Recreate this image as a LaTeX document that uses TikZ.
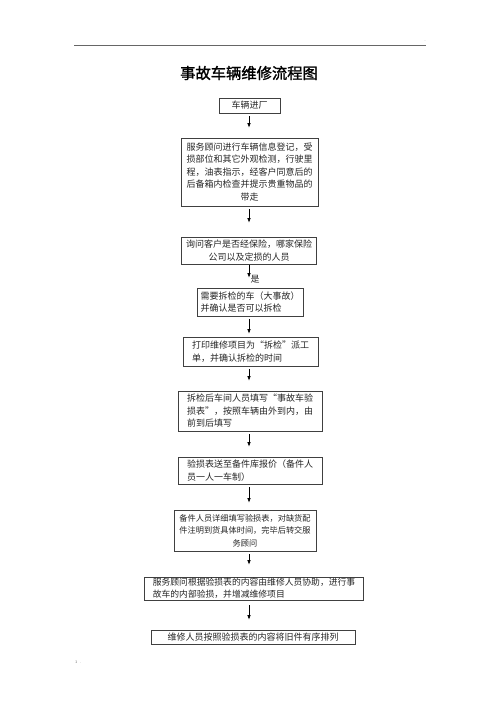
\documentclass[tikz,border=0pt]{standalone}
\usepackage{fontspec}
\newfontfamily\cjk{Noto Sans CJK SC}
\newfontfamily\cjkbold[FakeBold=1.5]{Noto Sans CJK SC}
\usetikzlibrary{arrows.meta}

\tikzset{
  stepbox/.style={draw=black!75, line width=0.6pt, inner sep=0pt, text=black!85,
    font=\cjk\fontsize{9}{12.5}\selectfont},
  flowarrow/.style={-{Latex[length=4.5pt,width=3.5pt]}, line width=0.6pt,
    shorten <=3pt, shorten >=10pt},
}

\begin{document}
\begin{tikzpicture}[x=1pt, y=-1pt]

\fill [white] (0,0) rectangle (500,708);

% page rule and marks
\draw [black!60, line width=0.6pt] (74,45) -- (426,45);
\node [font=\tiny, text=black!50] (dot) at (425,41) {.};
\node [font=\fontsize{4}{5}\selectfont, text=black!60] (pageno) at (78,662) {1 .};

\node [font=\cjkbold\fontsize{15.3}{18}\selectfont] (title) at (249,73) {事故车辆维修流程图};

% boxes
\node [stepbox, minimum width=61, minimum height=15] (enter) at (249.5,105.5) {车辆进厂};
\node [stepbox, minimum width=137, minimum height=68, align=center] (register) at (249.5,172)
  {服务顾问进行车辆信息登记，受\\损部位和其它外观检测，行驶里\\程，油表指示，经客户同意后的\\后备箱内检查并提示贵重物品的\\带走};
\node [stepbox, minimum width=135, minimum height=27, align=center] (insure) at (249,250.5)
  {询问客户是否经保险，哪家保险\\公司以及定损的人员};
\node [stepbox, minimum width=106, minimum height=28, align=left] (dismantle) at (250,302)
  {需要拆检的车（大事故）\\并确认是否可以拆检};
\node [stepbox, minimum width=135, minimum height=29, align=left] (order) at (250.5,351.5)
  {打印维修项目为“拆检”派工\\单，并确认拆检的时间};
\node [stepbox, minimum width=144, minimum height=40, align=left] (sheet) at (250,411)
  {拆检后车间人员填写“事故车验\\损表”，按照车辆由外到内，由\\前到后填写};
\node [stepbox, minimum width=144, minimum height=27, align=left] (quote) at (250,470.5)
  {验损表送至备件库报价（备件人\\员一人一车制）};
\node [stepbox, minimum width=142, minimum height=41, align=center,
  font=\cjk\fontsize{8.2}{12.5}\selectfont] (parts) at (245,530.5)
  {备件人员详细填写验损表，对缺货配\\件注明到货具体时间，完毕后转交服\\务顾问};
\node [stepbox, minimum width=219, minimum height=23, align=left,
  font=\cjk\fontsize{8.8}{12}\selectfont] (inspect) at (254,588.5)
  {服务顾问根据验损表的内容由维修人员协助，进行事\\故车的内部验损，并增减维修项目};
\node [stepbox, minimum width=204, minimum height=14] (sort) at (253,637)
  {维修人员按照验损表的内容将旧件有序排列};

% arrows
\coordinate (axis) at (249,0);
\draw [flowarrow] (enter.south -| axis) -- (register.north -| axis);
\draw [flowarrow, shorten >=14pt] (register.south -| axis) -- (insure.north -| axis);
\draw [flowarrow, shorten <=0.5pt] (insure.south -| axis) -- (dismantle.north -| axis);
\draw [flowarrow, shorten >=3pt] (dismantle.south -| axis) -- (order.north -| axis);
\draw [flowarrow] (order.south -| axis) -- (sheet.north -| axis);
\draw [flowarrow] (sheet.south -| axis) -- (quote.north -| axis);
\draw [flowarrow, shorten >=7pt] (quote.south -| axis) -- (parts.north -| axis);
\draw [flowarrow, shorten >=12pt] (parts.south -| axis) -- (inspect.north -| axis);
\draw [flowarrow, shorten <=5pt] (inspect.south -| axis) -- (sort.north -| axis);

\node [font=\cjk\fontsize{9}{10}\selectfont, text=black!85] (yes) at (255,279) {是};

\end{tikzpicture}
\end{document}
